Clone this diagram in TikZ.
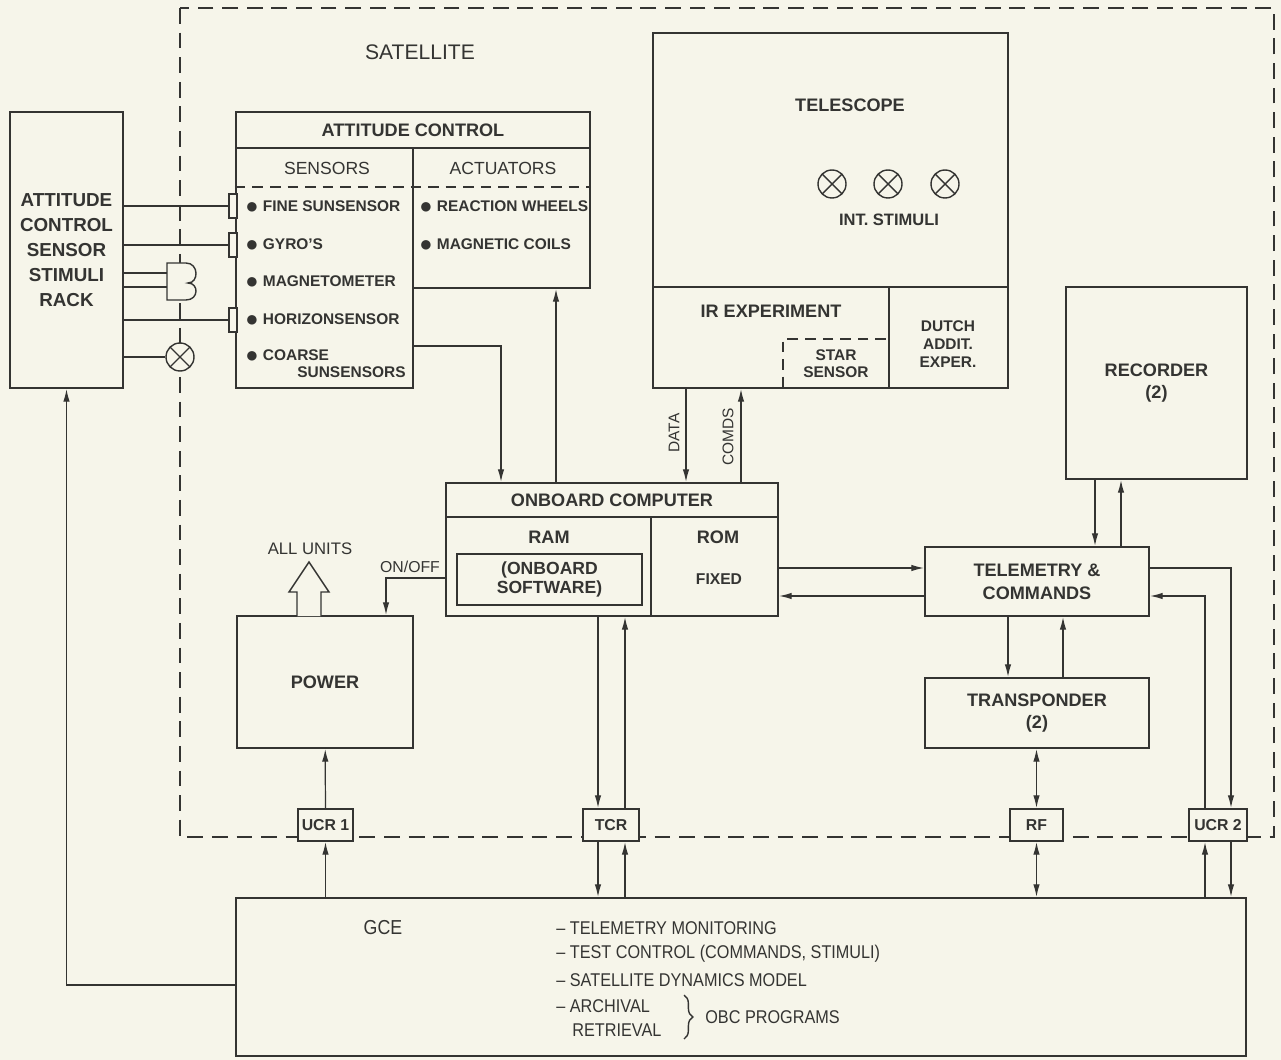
\documentclass[tikz,border=0pt]{standalone}
\usepackage{fontspec}
\setmainfont{Liberation Sans}
\newfontfamily\condfont[FakeStretch=0.88]{Liberation Sans}
\usetikzlibrary{arrows.meta,decorations.pathreplacing}

\definecolor{paper}{RGB}{246,245,234}
\definecolor{ink}{RGB}{52,52,50}
\newcommand{\sensdot}{\raisebox{-0.25ex}{\fontsize{12.5}{10}\selectfont ●}}

\tikzset{
  pxsize/.style 2 args={minimum width=#1*0.02cm, minimum height=#2*0.02cm},
  box/.style={draw=ink, fill=paper, line width=1.3pt, inner sep=0pt, text=ink,
    align=center, font=\fontsize{10.3}{13}\selectfont\bfseries},
  plug/.style={draw=ink, fill=paper, line width=0.8pt, inner sep=0pt},
  stim/.style={circle, draw=ink, fill=paper, line width=0.8pt, minimum size=0.56cm, inner sep=0pt,
    path picture={\draw[ink, line width=0.8pt]
      (path picture bounding box.south west) -- (path picture bounding box.north east)
      (path picture bounding box.north west) -- (path picture bounding box.south east);}},
  heading/.style={text=ink, align=center, inner sep=0pt, font=\fontsize{10.3}{13}\selectfont\bfseries},
  plaintxt/.style={text=ink, align=center, inner sep=0pt, font=\fontsize{9.8}{12}\selectfont},
  sensitem/.style={text=ink, anchor=west, inner sep=0pt, font=\fontsize{8.8}{10}\selectfont\bfseries},
  gceitem/.style={text=ink, anchor=west, inner sep=0pt, font=\condfont\fontsize{10.5}{12}\selectfont},
  link/.style={draw=ink, line width=0.7pt},
  satdash/.style={draw=ink, line width=1pt, dash pattern=on 9pt off 5pt},
  smalldash/.style={draw=ink, line width=0.9pt, dash pattern=on 6pt off 4pt}
}

\begin{document}
\begin{tikzpicture}[x=0.02cm, y=-0.02cm,
    >={Latex[length=2.5mm,width=1.3mm]},
    every edge/.style={draw=ink, line width=0.7pt}]
  \fill[paper] (0,0) rectangle (1281,1060);
  \useasboundingbox (0,0) rectangle (1281,1060);

  % helper coordinates for the connectors
  \coordinate (ydash) at (0,187);
  \coordinate (ysens) at (0,346);
  \coordinate (yonoff) at (0,578);
  \coordinate (yout) at (0,568);
  \coordinate (yin) at (0,596);
  \coordinate (ygce) at (0,985);
  \coordinate (xsens) at (501,0);
  \coordinate (xact) at (556,0);
  \coordinate (xdata) at (686,0);
  \coordinate (xcomds) at (741,0);
  \coordinate (xonoff) at (386,0);
  \coordinate (xtcrdn) at (598,0);
  \coordinate (xtcrup) at (625,0);
  \coordinate (xrecdn) at (1095,0);
  \coordinate (xrecup) at (1121,0);
  \coordinate (xtrdn) at (1008,0);
  \coordinate (xtrup) at (1063,0);
  \coordinate (xucrup) at (1205,0);
  \coordinate (xucrdn) at (1231,0);

  % satellite boundary
  \draw[satdash] (180,8) rectangle (1274,837);
  \node(satlabel)[plaintxt, font=\fontsize{12}{14}\selectfont] at (420,52) {SATELLITE};

  % stimuli rack
  \node(rack)[box, pxsize={113}{276}, font=\fontsize{10.7}{14.2}\selectfont\bfseries] at (66.5,250)
    {ATTITUDE\\CONTROL\\SENSOR\\STIMULI\\RACK};

  % attitude control
  \node(actitle)[box, pxsize={354}{36}] at (413,130) {ATTITUDE CONTROL};
  \node(sensors)[box, pxsize={177}{240}] at (324.5,268) {};
  \node(actuators)[box, pxsize={177}{140}] at (501.5,218) {};
  \draw[smalldash] (sensors.west |- ydash) -- (actuators.east |- ydash);
  \node(senslabel)[plaintxt, font=\fontsize{10}{12}\selectfont] at (327,168) {SENSORS};
  \node(actlabel)[plaintxt, font=\fontsize{10}{12}\selectfont] at (503,168) {ACTUATORS};
  \node(sfine)[sensitem] at (245,207) {\sensdot\ FINE SUNSENSOR};
  \node(sgyro)[sensitem] at (245,245) {\sensdot\ GYRO'S};
  \node(smag)[sensitem] at (245,282) {\sensdot\ MAGNETOMETER};
  \node(shor)[sensitem] at (245,320) {\sensdot\ HORIZONSENSOR};
  \node(scoarse)[sensitem] at (245,356) {\sensdot\ COARSE};
  \node(scoarse2)[sensitem] at (297,372) {SUNSENSORS};
  \node(awheel)[sensitem] at (419,207) {\sensdot\ REACTION WHEELS};
  \node(acoil)[sensitem] at (419,245) {\sensdot\ MAGNETIC COILS};

  % stimuli plugs
  \node(plugfine)[plug, pxsize={8}{24}] at (233,206) {};
  \node(pluggyro)[plug, pxsize={8}{24}] at (233,245) {};
  \node(plughor)[plug, pxsize={8}{24}] at (233,320) {};
  \draw[ink, line width=0.8pt, fill=paper] (167,263) -- (186,263)
    .. controls (199,263) and (199,283) .. (188,283)
    .. controls (199,283) and (199,300) .. (186,300) -- (167,300) -- cycle;
  \coordinate (magone) at (167,273);
  \coordinate (magtwo) at (167,287);
  \node(extstim)[stim] at (180,357) {};
  \path (rack.east |- plugfine) edge (plugfine);
  \path (rack.east |- pluggyro) edge (pluggyro);
  \path (rack.east |- magone) edge (magone);
  \path (rack.east |- magtwo) edge (magtwo);
  \path (rack.east |- plughor) edge (plughor);
  \path (rack.east |- extstim) edge (extstim);

  % telescope
  \node(tele)[box, pxsize={355}{254}] at (830.5,160) {};
  \node(telelabel)[heading] at (850,105) {TELESCOPE};
  \node(intone)[stim] at (832,184) {};
  \node(inttwo)[stim] at (888,184) {};
  \node(intthree)[stim] at (945,184) {};
  \node(intlabel)[heading, font=\fontsize{9.4}{11}\selectfont\bfseries] at (889,220) {INT. STIMULI};
  \node(irexp)[box, pxsize={236}{101}] at (771,337.5) {};
  \node(irlabel)[heading] at (771,311) {IR EXPERIMENT};
  \node(dutch)[box, pxsize={119}{101}] at (948.5,337.5) {};
  \node(dutchlabel)[heading, font=\fontsize{8.8}{10.2}\selectfont\bfseries] at (948,344)
    {DUTCH\\ADDIT.\\EXPER.};
  \node(starsensor)[draw=ink, smalldash, pxsize={106}{49}, inner sep=0pt, text=ink, align=center,
    font=\fontsize{8.8}{9.6}\selectfont\bfseries] at (836,363.5) {STAR\\SENSOR};

  % onboard computer
  \node(obctitle)[box, pxsize={332}{34}] at (612,500) {ONBOARD COMPUTER};
  \node(ram)[box, pxsize={205}{99}] at (548.5,566.5) {};
  \node(rom)[box, pxsize={127}{99}] at (714.5,566.5) {};
  \node(ramlabel)[heading] at (549,537) {RAM};
  \node(romlabel)[heading] at (718,537) {ROM};
  \node(software)[draw=ink, line width=1pt, pxsize={185}{51}, inner sep=0pt, text=ink, align=center,
    font=\fontsize{10}{10.8}\selectfont\bfseries] at (549.5,579.5) {(ONBOARD\\SOFTWARE)};
  \node(fixed)[heading, font=\fontsize{8.9}{11}\selectfont\bfseries] at (719,579) {FIXED};

  % power
  \node(power)[box, pxsize={176}{132}] at (325,682) {POWER};
  \draw[ink, line width=0.8pt, fill=paper] (297,616) -- (297,592) -- (289,592) -- (309,562)
    -- (329,592) -- (321,592) -- (321,616);
  \node(allunits)[plaintxt, font=\fontsize{9.5}{11}\selectfont] at (310,549) {ALL UNITS};
  \node(onoff)[plaintxt, font=\fontsize{9}{11}\selectfont] at (410,567) {ON/OFF};

  % telemetry chain
  \node(recorder)[box, pxsize={181}{192}] at (1156.5,383) {RECORDER\\(2)};
  \node(tmtc)[box, pxsize={224}{69}] at (1037,581.5) {TELEMETRY \&\\COMMANDS};
  \node(transp)[box, pxsize={224}{70}] at (1037,713) {TRANSPONDER\\(2)};

  % umbilicals
  \node(ucrone)[box, pxsize={55}{32}, font=\fontsize{9}{11}\selectfont\bfseries] at (325.5,825) {UCR 1};
  \node(tcr)[box, pxsize={56}{32}, font=\fontsize{9}{11}\selectfont\bfseries] at (611,825) {TCR};
  \node(rf)[box, pxsize={53}{32}, font=\fontsize{9}{11}\selectfont\bfseries] at (1036.5,825) {RF};
  \node(ucrtwo)[box, pxsize={58}{32}, font=\fontsize{9}{11}\selectfont\bfseries] at (1218,825) {UCR 2};

  % ground checkout equipment
  \node(gce)[box, pxsize={1010}{158}] at (741,977) {};
  \node(gcelabel)[gceitem, font=\condfont\fontsize{11.5}{13}\selectfont, anchor=center] at (383,928) {GCE};
  \node(gtm)[gceitem] at (556,928) {– TELEMETRY MONITORING};
  \node(gtest)[gceitem] at (556,954) {– TEST CONTROL (COMMANDS, STIMULI)};
  \node(gdyn)[gceitem] at (556,980) {– SATELLITE DYNAMICS MODEL};
  \node(garch)[gceitem] at (556,1006) {– ARCHIVAL};
  \node(gretr)[gceitem] at (572,1030) {RETRIEVAL};
  \draw[ink, line width=0.8pt, decorate, decoration={brace, amplitude=5pt}] (684,995) -- (684,1039);
  \node(gobc)[gceitem] at (705,1017) {OBC PROGRAMS};

  % connections
  \draw[link,->] (sensors.east |- ysens) -| (obctitle.north -| xsens);
  \path (obctitle.north -| xact) edge[->] (actuators.south -| xact);
  \path (irexp.south -| xdata) edge[->] (obctitle.north -| xdata);
  \path (obctitle.north -| xcomds) edge[->] (irexp.south -| xcomds);
  \node(datalabel)[plaintxt, rotate=90, font=\fontsize{8.8}{10}\selectfont] at (674,433) {DATA};
  \node(comdslabel)[plaintxt, rotate=90, font=\fontsize{8.8}{10}\selectfont] at (728,437) {COMDS};
  \draw[link,->] (ram.west |- yonoff) -| (power.north -| xonoff);
  \path (rom.east |- yout) edge[->] (tmtc.west |- yout);
  \path (tmtc.west |- yin) edge[->] (rom.east |- yin);
  \path (ram.south -| xtcrdn) edge[->] (tcr.north -| xtcrdn);
  \path (tcr.north -| xtcrup) edge[->] (ram.south -| xtcrup);
  \path (tcr.south -| xtcrdn) edge[->] (gce.north -| xtcrdn);
  \path (gce.north -| xtcrup) edge[->] (tcr.south -| xtcrup);
  \path (ucrone) edge[->] (power);
  \path (gce.north -| ucrone) edge[->] (ucrone);
  \path (recorder.south -| xrecdn) edge[->] (tmtc.north -| xrecdn);
  \path (tmtc.north -| xrecup) edge[->] (recorder.south -| xrecup);
  \path (tmtc.south -| xtrdn) edge[->] (transp.north -| xtrdn);
  \path (transp.north -| xtrup) edge[->] (tmtc.south -| xtrup);
  \path (transp.south -| rf) edge[<->] (rf);
  \path (rf) edge[<->] (gce.north -| rf);
  \draw[link,->] (tmtc.east |- yout) -| (ucrtwo.north -| xucrdn);
  \draw[link,->] (ucrtwo.north -| xucrup) |- (tmtc.east |- yin);
  \path (gce.north -| xucrup) edge[->] (ucrtwo.south -| xucrup);
  \path (ucrtwo.south -| xucrdn) edge[->] (gce.north -| xucrdn);
  \draw[link,->] (gce.west |- ygce) -| (rack.south);
\end{tikzpicture}
\end{document}
